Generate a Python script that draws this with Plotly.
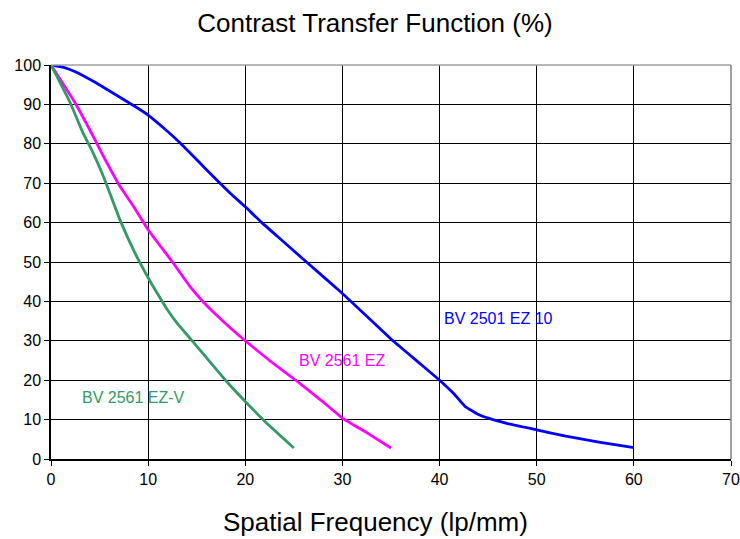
import plotly.graph_objects as go

# Data
blue_x = [0, 1.3, 2.5, 4.4, 6.5, 8.7, 10, 11.6, 13.3, 15.7, 18.4, 20, 21.7, 24, 26.3, 30,
          35.2, 38, 40, 41.5, 42.6, 44, 45.1, 47, 50, 53, 56.4, 60]
blue_y = [100, 99.4, 98.3, 95.8, 92.7, 89.4, 87.3, 84.0, 80.2, 74.2, 67.6, 64, 60, 55, 50, 42,
          30, 24.2, 20, 16.5, 13.4, 11.3, 10.3, 9, 7.4, 5.8, 4.3, 2.9]

mag_x = [0, 2.5, 4, 5.4, 7.1, 8.5, 10, 12.5, 14.3, 15.7, 17, 18.5, 20, 22.5, 25.3, 28, 30, 32.5, 35]
mag_y = [100, 90.3, 83.5, 76.8, 69.2, 64.1, 58.2, 50, 43.8, 39.8, 36.6, 33.2, 30, 25, 19.8, 14.5, 10.4, 6.7, 2.8]

grn_x = [0, 2, 3.3, 4.2, 5.4, 7.1, 8.6, 10, 11, 12, 13, 14.6, 18.1, 20, 22, 25]
grn_y = [100, 90.3, 82.7, 78.4, 71.7, 60.7, 52.5, 46, 41.8, 37.8, 34.4, 29.8, 19.6, 14.6, 9.6, 2.8]

series_names = ["BV 2501 EZ 10", "BV 2561 EZ", "BV 2561 EZ-V"]
series_colors = ["#0000FF", "#FF00FF", "#339966"]
label_pos = [(40.3, 35.7), (25.3, 25.1), (3.0, 15.7)]

x_ticks = list(range(0, 71, 10))
y_ticks = list(range(0, 101, 10))

FONT = "Liberation Sans, Arial, sans-serif"

fig = go.Figure()
for xs, ys, name, col in zip([blue_x, mag_x, grn_x], [blue_y, mag_y, grn_y], series_names, series_colors):
    fig.add_trace(go.Scatter(x=xs, y=ys, mode="lines", name=name,
                             line=dict(color=col, width=2.8, shape="spline", smoothing=0.4)))

for (lx, ly), name, col in zip(label_pos, series_names, series_colors):
    fig.add_annotation(x=lx, y=ly, text=name, showarrow=False, xanchor="left", yanchor="middle",
                       font=dict(family=FONT, size=16, color=col))

# grey plot-area border on top and right
fig.add_shape(type="line", xref="x domain", yref="y domain", x0=0, x1=1, y0=1, y1=1,
              line=dict(color="#a0a0a0", width=1.5), layer="above")
fig.add_shape(type="line", xref="x domain", yref="y domain", x0=1, x1=1, y0=0, y1=1,
              line=dict(color="#808080", width=1.5), layer="above")

fig.add_annotation(xref="paper", yref="paper", x=(375 - 51) / 680, y=-0.16,
                   text="Spatial Frequency (lp/mm)",
                   showarrow=False, xanchor="center", yanchor="middle",
                   font=dict(family=FONT, size=26, color="black"))

fig.update_layout(
    width=740, height=539,
    margin=dict(l=51, r=9, t=65, b=80, autoexpand=False),
    paper_bgcolor="white", plot_bgcolor="white",
    showlegend=False,
    title=dict(text="Contrast Transfer Function (%)", x=375 / 740, xanchor="center",
               y=1 - 23 / 539, yanchor="middle", yref="container",
               font=dict(family=FONT, size=26, color="black")),
    font=dict(family=FONT, size=16, color="black"),
)
fig.update_xaxes(range=[0, 70], tickvals=x_ticks, showgrid=True, gridcolor="black", gridwidth=1,
                 showline=True, linecolor="black", linewidth=1.5, ticks="outside", ticklen=5,
                 tickcolor="black", zeroline=False, fixedrange=True, automargin=False,
                 tickfont=dict(size=16))
fig.update_yaxes(range=[0, 100], tickvals=y_ticks, showgrid=True, gridcolor="black", gridwidth=1,
                 showline=True, linecolor="black", linewidth=1.5, ticks="outside", ticklen=5,
                 tickcolor="black", zeroline=False, fixedrange=True, automargin=False,
                 tickfont=dict(size=16))

fig.write_html("out.html")
